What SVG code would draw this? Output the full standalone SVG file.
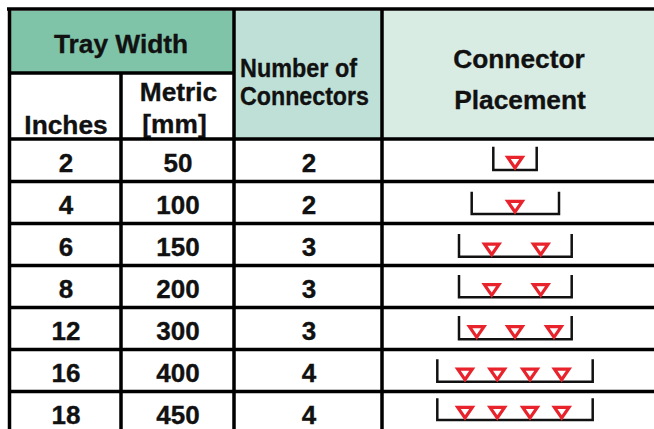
<svg xmlns="http://www.w3.org/2000/svg" xmlns:xlink="http://www.w3.org/1999/xlink" width="654" height="429" viewBox="0 0 654 429">
<style>
  text { font-family: "Liberation Sans", Arial, sans-serif; font-weight: bold; fill: #111; stroke: #111; stroke-width: 0.35; }
  .h { font-size: 26.3px; }
  .n { font-size: 26px; text-anchor: middle; }
  .c { text-anchor: middle; }
  .grid { stroke: #000; stroke-width: 3.5; fill: none; }
  .tray { stroke: #111; stroke-width: 2.5; fill: none; }
  .tri { stroke: #e8232b; stroke-width: 3.2; fill: none; stroke-linejoin: miter; }
</style>
<defs>
  <path id="t" class="tri" d="M-7.3,-12.6 H7.3 L0,-2 Z"/>
</defs>
<rect x="0" y="0" width="654" height="429" fill="#fff"/>

<g id="hdr-tray-width">
  <rect x="11" y="11" width="222" height="62" fill="#7fc4a9"/>
  <text class="h c" x="121" y="53">Tray Width</text>
</g>
<g id="hdr-inches">
  <rect x="11" y="74" width="110" height="64" fill="#fff"/>
  <text class="h c" x="66" y="134">Inches</text>
</g>
<g id="hdr-metric">
  <rect x="122" y="74" width="111" height="64" fill="#fff"/>
  <text class="h c" x="178.5" y="101">Metric</text>
  <text class="h c" x="174.5" y="133">[mm]</text>
</g>
<g id="hdr-number">
  <rect x="234" y="11" width="148" height="127" fill="#bfe0d6"/>
  <text class="h" x="240" y="77" textLength="117" lengthAdjust="spacingAndGlyphs">Number of</text>
  <text class="h" x="240" y="105" textLength="129" lengthAdjust="spacingAndGlyphs">Connectors</text>
</g>
<g id="hdr-placement">
  <rect x="382" y="11" width="272" height="127" fill="#d9ece4"/>
  <text class="h c" x="519" y="68">Connector</text>
  <text class="h c" x="520" y="109">Placement</text>
</g>

<g id="connectors">
  <path class="grid" d="M7,9 H654 M9.5,7.5 V429 M9.5,73 H234 M121,73 V429 M234,7.5 V429 M382,7.5 V429 M8,139 H654 M8,181.5 H654 M8,223.5 H654 M8,265.5 H654 M8,307.5 H654 M8,349.5 H654 M8,391.5 H654"/>
</g>

<g id="row-2">
  <text class="n" x="66" y="172">2</text>
  <text class="n" x="178" y="172">50</text>
  <text class="n" x="309" y="172">2</text>
  <path class="tray" d="M493.3,146.7 V170 H536.7 V146.7"/>
  <use xlink:href="#t" x="515" y="170"/>
</g>
<g id="row-4">
  <text class="n" x="66" y="214">4</text>
  <text class="n" x="178" y="214">100</text>
  <text class="n" x="309" y="214">2</text>
  <path class="tray" d="M471.7,191.7 V214 H559 V191.7"/>
  <use xlink:href="#t" x="515" y="214"/>
</g>
<g id="row-6">
  <text class="n" x="66" y="256">6</text>
  <text class="n" x="178" y="256">150</text>
  <text class="n" x="309" y="256">3</text>
  <path class="tray" d="M459,234 V256.7 H571.7 V234"/>
  <use xlink:href="#t" x="491.7" y="256.7"/>
  <use xlink:href="#t" x="540.7" y="256.7"/>
</g>
<g id="row-8">
  <text class="n" x="66" y="298">8</text>
  <text class="n" x="178" y="298">200</text>
  <text class="n" x="309" y="298">3</text>
  <path class="tray" d="M459,275 V297.3 H571.7 V275"/>
  <use xlink:href="#t" x="491.7" y="297.3"/>
  <use xlink:href="#t" x="540.7" y="297.3"/>
</g>
<g id="row-12">
  <text class="n" x="66" y="340">12</text>
  <text class="n" x="178" y="340">300</text>
  <text class="n" x="309" y="340">3</text>
  <path class="tray" d="M459,316 V339.3 H571.7 V316"/>
  <use xlink:href="#t" x="476.7" y="339.3"/>
  <use xlink:href="#t" x="515" y="339.3"/>
  <use xlink:href="#t" x="554" y="339.3"/>
</g>
<g id="row-16">
  <text class="n" x="66" y="382">16</text>
  <text class="n" x="178" y="382">400</text>
  <text class="n" x="309" y="382">4</text>
  <path class="tray" d="M437.3,359.3 V381.7 H592.7 V359.3"/>
  <use xlink:href="#t" x="465" y="381.7"/>
  <use xlink:href="#t" x="497.3" y="381.7"/>
  <use xlink:href="#t" x="530" y="381.7"/>
  <use xlink:href="#t" x="561.7" y="381.7"/>
</g>
<g id="row-18">
  <text class="n" x="66" y="424">18</text>
  <text class="n" x="178" y="424">450</text>
  <text class="n" x="309" y="424">4</text>
  <path class="tray" d="M437.3,398.3 V420 H592.7 V398.3"/>
  <use xlink:href="#t" x="465" y="420"/>
  <use xlink:href="#t" x="497.3" y="420"/>
  <use xlink:href="#t" x="530" y="420"/>
  <use xlink:href="#t" x="561.7" y="420"/>
</g>
</svg>
